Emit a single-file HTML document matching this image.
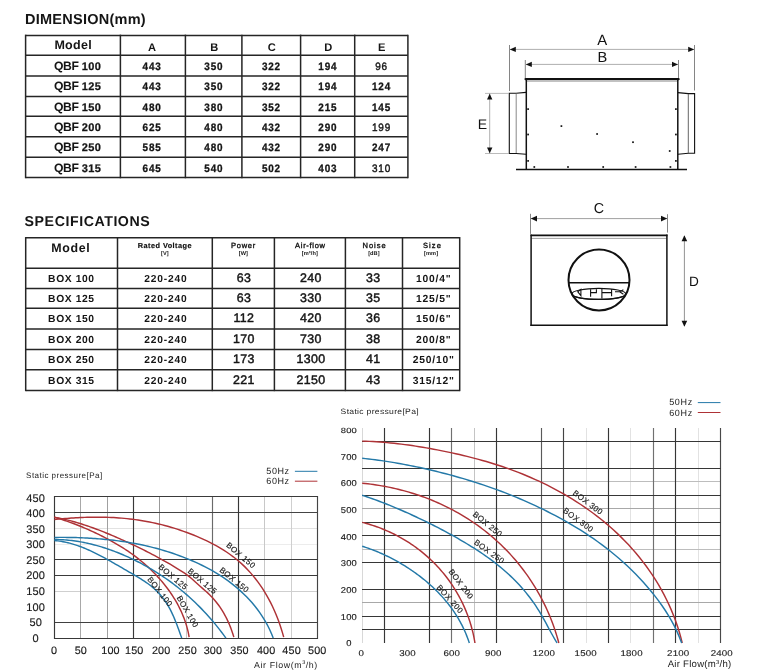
<!DOCTYPE html>
<html><head><meta charset="utf-8"><title>Dimension &amp; Specifications</title>
<style>
html,body{margin:0;padding:0;background:#fff;}
body{width:772px;height:672px;overflow:hidden;}
svg{display:block;font-family:"Liberation Sans", Arial, sans-serif;text-rendering:geometricPrecision;}
</style></head><body>
<svg width="772" height="672" viewBox="0 0 772 672">
<rect width="772" height="672" fill="#fff"/>
<text x="25.00" y="23.80" font-size="14.50" font-weight="bold" text-anchor="start" letter-spacing="0.25" fill="#151515" >DIMENSION(mm)</text>
<text x="24.60" y="225.90" font-size="14.20" font-weight="bold" text-anchor="start" letter-spacing="0.55" fill="#151515" >SPECIFICATIONS</text>
<line x1="25.60" y1="34.65" x2="25.60" y2="178.25" stroke="#252525" stroke-width="1.50" />
<line x1="120.40" y1="34.65" x2="120.40" y2="178.25" stroke="#252525" stroke-width="1.50" />
<line x1="185.40" y1="34.65" x2="185.40" y2="178.25" stroke="#252525" stroke-width="1.50" />
<line x1="241.90" y1="34.65" x2="241.90" y2="178.25" stroke="#252525" stroke-width="1.50" />
<line x1="300.60" y1="34.65" x2="300.60" y2="178.25" stroke="#252525" stroke-width="1.50" />
<line x1="354.70" y1="34.65" x2="354.70" y2="178.25" stroke="#252525" stroke-width="1.50" />
<line x1="407.90" y1="34.65" x2="407.90" y2="178.25" stroke="#252525" stroke-width="1.50" />
<line x1="25.60" y1="35.40" x2="407.90" y2="35.40" stroke="#252525" stroke-width="1.50" />
<line x1="25.60" y1="55.20" x2="407.90" y2="55.20" stroke="#252525" stroke-width="1.50" />
<line x1="25.60" y1="75.90" x2="407.90" y2="75.90" stroke="#252525" stroke-width="1.50" />
<line x1="25.60" y1="96.50" x2="407.90" y2="96.50" stroke="#252525" stroke-width="1.50" />
<line x1="25.60" y1="116.20" x2="407.90" y2="116.20" stroke="#252525" stroke-width="1.50" />
<line x1="25.60" y1="136.80" x2="407.90" y2="136.80" stroke="#252525" stroke-width="1.50" />
<line x1="25.60" y1="157.30" x2="407.90" y2="157.30" stroke="#252525" stroke-width="1.50" />
<line x1="25.60" y1="177.50" x2="407.90" y2="177.50" stroke="#252525" stroke-width="1.50" />
<text x="73.20" y="49.00" font-size="12.50" font-weight="bold" text-anchor="middle" letter-spacing="0.30" fill="#151515" >Model</text>
<text x="152.10" y="50.80" font-size="11.10" font-weight="bold" text-anchor="middle" letter-spacing="0.00" fill="#151515" >A</text>
<text x="214.15" y="50.80" font-size="11.10" font-weight="bold" text-anchor="middle" letter-spacing="0.00" fill="#151515" >B</text>
<text x="271.75" y="50.80" font-size="11.10" font-weight="bold" text-anchor="middle" letter-spacing="0.00" fill="#151515" >C</text>
<text x="328.15" y="50.80" font-size="11.10" font-weight="bold" text-anchor="middle" letter-spacing="0.00" fill="#151515" >D</text>
<text x="381.80" y="50.80" font-size="11.10" font-weight="bold" text-anchor="middle" letter-spacing="0.00" fill="#151515" >E</text>
<text x="54.00" y="69.70" font-size="12.20" font-weight="bold" text-anchor="start" letter-spacing="-0.45" fill="#151515" >QBF</text>
<text x="81.70" y="69.70" font-size="11.00" font-weight="bold" text-anchor="start" letter-spacing="0.40" fill="#151515" stroke="#151515" stroke-width="0.25">100</text>
<text x="0" y="0" font-size="10.8" font-weight="bold" text-anchor="middle" letter-spacing="0.9" fill="#151515" stroke="#151515" stroke-width="0.30" transform="translate(152.10,69.70) scale(0.92,1)">443</text>
<text x="0" y="0" font-size="10.8" font-weight="bold" text-anchor="middle" letter-spacing="0.9" fill="#151515" stroke="#151515" stroke-width="0.30" transform="translate(213.85,69.70) scale(0.92,1)">350</text>
<text x="0" y="0" font-size="10.8" font-weight="bold" text-anchor="middle" letter-spacing="0.9" fill="#151515" stroke="#151515" stroke-width="0.30" transform="translate(271.45,69.70) scale(0.92,1)">322</text>
<text x="0" y="0" font-size="10.8" font-weight="bold" text-anchor="middle" letter-spacing="0.9" fill="#151515" stroke="#151515" stroke-width="0.30" transform="translate(327.85,69.70) scale(0.92,1)">194</text>
<text x="0" y="0" font-size="10.8" font-weight="normal" text-anchor="middle" letter-spacing="0.9" fill="#151515" stroke="#151515" stroke-width="0.42" transform="translate(381.50,69.70) scale(0.92,1)">96</text>
<text x="54.00" y="90.40" font-size="12.20" font-weight="bold" text-anchor="start" letter-spacing="-0.45" fill="#151515" >QBF</text>
<text x="81.70" y="90.40" font-size="11.00" font-weight="bold" text-anchor="start" letter-spacing="0.40" fill="#151515" stroke="#151515" stroke-width="0.25">125</text>
<text x="0" y="0" font-size="10.8" font-weight="bold" text-anchor="middle" letter-spacing="0.9" fill="#151515" stroke="#151515" stroke-width="0.30" transform="translate(152.10,90.40) scale(0.92,1)">443</text>
<text x="0" y="0" font-size="10.8" font-weight="bold" text-anchor="middle" letter-spacing="0.9" fill="#151515" stroke="#151515" stroke-width="0.30" transform="translate(213.85,90.40) scale(0.92,1)">350</text>
<text x="0" y="0" font-size="10.8" font-weight="bold" text-anchor="middle" letter-spacing="0.9" fill="#151515" stroke="#151515" stroke-width="0.30" transform="translate(271.45,90.40) scale(0.92,1)">322</text>
<text x="0" y="0" font-size="10.8" font-weight="bold" text-anchor="middle" letter-spacing="0.9" fill="#151515" stroke="#151515" stroke-width="0.30" transform="translate(327.85,90.40) scale(0.92,1)">194</text>
<text x="0" y="0" font-size="10.8" font-weight="bold" text-anchor="middle" letter-spacing="0.9" fill="#151515" stroke="#151515" stroke-width="0.30" transform="translate(381.50,90.40) scale(0.92,1)">124</text>
<text x="54.00" y="111.00" font-size="12.20" font-weight="bold" text-anchor="start" letter-spacing="-0.45" fill="#151515" >QBF</text>
<text x="81.70" y="111.00" font-size="11.00" font-weight="bold" text-anchor="start" letter-spacing="0.40" fill="#151515" stroke="#151515" stroke-width="0.25">150</text>
<text x="0" y="0" font-size="10.8" font-weight="bold" text-anchor="middle" letter-spacing="0.9" fill="#151515" stroke="#151515" stroke-width="0.30" transform="translate(152.10,111.00) scale(0.92,1)">480</text>
<text x="0" y="0" font-size="10.8" font-weight="bold" text-anchor="middle" letter-spacing="0.9" fill="#151515" stroke="#151515" stroke-width="0.30" transform="translate(213.85,111.00) scale(0.92,1)">380</text>
<text x="0" y="0" font-size="10.8" font-weight="bold" text-anchor="middle" letter-spacing="0.9" fill="#151515" stroke="#151515" stroke-width="0.30" transform="translate(271.45,111.00) scale(0.92,1)">352</text>
<text x="0" y="0" font-size="10.8" font-weight="bold" text-anchor="middle" letter-spacing="0.9" fill="#151515" stroke="#151515" stroke-width="0.30" transform="translate(327.85,111.00) scale(0.92,1)">215</text>
<text x="0" y="0" font-size="10.8" font-weight="bold" text-anchor="middle" letter-spacing="0.9" fill="#151515" stroke="#151515" stroke-width="0.30" transform="translate(381.50,111.00) scale(0.92,1)">145</text>
<text x="54.00" y="130.70" font-size="12.20" font-weight="bold" text-anchor="start" letter-spacing="-0.45" fill="#151515" >QBF</text>
<text x="81.70" y="130.70" font-size="11.00" font-weight="bold" text-anchor="start" letter-spacing="0.40" fill="#151515" stroke="#151515" stroke-width="0.25">200</text>
<text x="0" y="0" font-size="10.8" font-weight="bold" text-anchor="middle" letter-spacing="0.9" fill="#151515" stroke="#151515" stroke-width="0.30" transform="translate(152.10,130.70) scale(0.92,1)">625</text>
<text x="0" y="0" font-size="10.8" font-weight="bold" text-anchor="middle" letter-spacing="0.9" fill="#151515" stroke="#151515" stroke-width="0.30" transform="translate(213.85,130.70) scale(0.92,1)">480</text>
<text x="0" y="0" font-size="10.8" font-weight="bold" text-anchor="middle" letter-spacing="0.9" fill="#151515" stroke="#151515" stroke-width="0.30" transform="translate(271.45,130.70) scale(0.92,1)">432</text>
<text x="0" y="0" font-size="10.8" font-weight="bold" text-anchor="middle" letter-spacing="0.9" fill="#151515" stroke="#151515" stroke-width="0.30" transform="translate(327.85,130.70) scale(0.92,1)">290</text>
<text x="0" y="0" font-size="10.8" font-weight="normal" text-anchor="middle" letter-spacing="0.9" fill="#151515" stroke="#151515" stroke-width="0.42" transform="translate(381.50,130.70) scale(0.92,1)">199</text>
<text x="54.00" y="151.30" font-size="12.20" font-weight="bold" text-anchor="start" letter-spacing="-0.45" fill="#151515" >QBF</text>
<text x="81.70" y="151.30" font-size="11.00" font-weight="bold" text-anchor="start" letter-spacing="0.40" fill="#151515" stroke="#151515" stroke-width="0.25">250</text>
<text x="0" y="0" font-size="10.8" font-weight="bold" text-anchor="middle" letter-spacing="0.9" fill="#151515" stroke="#151515" stroke-width="0.30" transform="translate(152.10,151.30) scale(0.92,1)">585</text>
<text x="0" y="0" font-size="10.8" font-weight="bold" text-anchor="middle" letter-spacing="0.9" fill="#151515" stroke="#151515" stroke-width="0.30" transform="translate(213.85,151.30) scale(0.92,1)">480</text>
<text x="0" y="0" font-size="10.8" font-weight="bold" text-anchor="middle" letter-spacing="0.9" fill="#151515" stroke="#151515" stroke-width="0.30" transform="translate(271.45,151.30) scale(0.92,1)">432</text>
<text x="0" y="0" font-size="10.8" font-weight="bold" text-anchor="middle" letter-spacing="0.9" fill="#151515" stroke="#151515" stroke-width="0.30" transform="translate(327.85,151.30) scale(0.92,1)">290</text>
<text x="0" y="0" font-size="10.8" font-weight="bold" text-anchor="middle" letter-spacing="0.9" fill="#151515" stroke="#151515" stroke-width="0.30" transform="translate(381.50,151.30) scale(0.92,1)">247</text>
<text x="54.00" y="171.80" font-size="12.20" font-weight="bold" text-anchor="start" letter-spacing="-0.45" fill="#151515" >QBF</text>
<text x="81.70" y="171.80" font-size="11.00" font-weight="bold" text-anchor="start" letter-spacing="0.40" fill="#151515" stroke="#151515" stroke-width="0.25">315</text>
<text x="0" y="0" font-size="10.8" font-weight="bold" text-anchor="middle" letter-spacing="0.9" fill="#151515" stroke="#151515" stroke-width="0.30" transform="translate(152.10,171.80) scale(0.92,1)">645</text>
<text x="0" y="0" font-size="10.8" font-weight="bold" text-anchor="middle" letter-spacing="0.9" fill="#151515" stroke="#151515" stroke-width="0.30" transform="translate(213.85,171.80) scale(0.92,1)">540</text>
<text x="0" y="0" font-size="10.8" font-weight="bold" text-anchor="middle" letter-spacing="0.9" fill="#151515" stroke="#151515" stroke-width="0.30" transform="translate(271.45,171.80) scale(0.92,1)">502</text>
<text x="0" y="0" font-size="10.8" font-weight="bold" text-anchor="middle" letter-spacing="0.9" fill="#151515" stroke="#151515" stroke-width="0.30" transform="translate(327.85,171.80) scale(0.92,1)">403</text>
<text x="0" y="0" font-size="10.8" font-weight="normal" text-anchor="middle" letter-spacing="0.9" fill="#151515" stroke="#151515" stroke-width="0.42" transform="translate(381.50,171.80) scale(0.92,1)">310</text>
<line x1="25.70" y1="237.05" x2="25.70" y2="391.15" stroke="#252525" stroke-width="1.50" />
<line x1="117.50" y1="237.05" x2="117.50" y2="391.15" stroke="#252525" stroke-width="1.50" />
<line x1="212.30" y1="237.05" x2="212.30" y2="391.15" stroke="#252525" stroke-width="1.50" />
<line x1="274.40" y1="237.05" x2="274.40" y2="391.15" stroke="#252525" stroke-width="1.50" />
<line x1="345.40" y1="237.05" x2="345.40" y2="391.15" stroke="#252525" stroke-width="1.50" />
<line x1="402.50" y1="237.05" x2="402.50" y2="391.15" stroke="#252525" stroke-width="1.50" />
<line x1="459.70" y1="237.05" x2="459.70" y2="391.15" stroke="#252525" stroke-width="1.50" />
<line x1="25.70" y1="237.80" x2="459.70" y2="237.80" stroke="#252525" stroke-width="1.50" />
<line x1="25.70" y1="268.20" x2="459.70" y2="268.20" stroke="#252525" stroke-width="1.50" />
<line x1="25.70" y1="288.40" x2="459.70" y2="288.40" stroke="#252525" stroke-width="1.50" />
<line x1="25.70" y1="308.20" x2="459.70" y2="308.20" stroke="#252525" stroke-width="1.50" />
<line x1="25.70" y1="329.10" x2="459.70" y2="329.10" stroke="#252525" stroke-width="1.50" />
<line x1="25.70" y1="349.60" x2="459.70" y2="349.60" stroke="#252525" stroke-width="1.50" />
<line x1="25.70" y1="369.80" x2="459.70" y2="369.80" stroke="#252525" stroke-width="1.50" />
<line x1="25.70" y1="390.40" x2="459.70" y2="390.40" stroke="#252525" stroke-width="1.50" />
<text x="70.80" y="251.60" font-size="12.40" font-weight="bold" text-anchor="middle" letter-spacing="0.65" fill="#151515" >Model</text>
<text x="164.90" y="247.70" font-size="7.30" font-weight="bold" text-anchor="middle" letter-spacing="0.46" fill="#111" stroke="#111" stroke-width="0.2">Rated Voltage</text>
<text x="164.90" y="254.60" font-size="5.60" font-weight="bold" text-anchor="middle" letter-spacing="0.10" fill="#111" >[V]</text>
<text x="243.55" y="247.80" font-size="7.50" font-weight="normal" text-anchor="middle" letter-spacing="0.75" fill="#111" stroke="#111" stroke-width="0.35">Power</text>
<text x="243.35" y="254.60" font-size="5.60" font-weight="bold" text-anchor="middle" letter-spacing="0.10" fill="#111" >[W]</text>
<text x="310.40" y="247.80" font-size="7.50" font-weight="normal" text-anchor="middle" letter-spacing="0.70" fill="#111" stroke="#111" stroke-width="0.35">Air-flow</text>
<text x="309.90" y="254.60" font-size="5.60" font-weight="bold" text-anchor="middle" letter-spacing="0.10" fill="#111" >[m&#179;/h]</text>
<text x="374.55" y="247.80" font-size="7.50" font-weight="normal" text-anchor="middle" letter-spacing="0.95" fill="#111" stroke="#111" stroke-width="0.35">Noise</text>
<text x="373.95" y="254.60" font-size="5.60" font-weight="bold" text-anchor="middle" letter-spacing="0.10" fill="#111" >[dB]</text>
<text x="432.50" y="247.80" font-size="7.50" font-weight="normal" text-anchor="middle" letter-spacing="1.10" fill="#111" stroke="#111" stroke-width="0.35">Size</text>
<text x="431.10" y="254.60" font-size="5.60" font-weight="bold" text-anchor="middle" letter-spacing="0.10" fill="#111" >[mm]</text>
<text x="71.40" y="281.90" font-size="10.30" font-weight="bold" text-anchor="middle" letter-spacing="0.60" fill="#151515" >BOX 100</text>
<text x="165.80" y="281.90" font-size="10.20" font-weight="bold" text-anchor="middle" letter-spacing="0.85" fill="#151515" >220-240</text>
<text x="243.95" y="281.90" font-size="12.40" font-weight="normal" text-anchor="middle" letter-spacing="0.35" fill="#151515" stroke="#151515" stroke-width="0.45">63</text>
<text x="310.90" y="281.90" font-size="12.40" font-weight="normal" text-anchor="middle" letter-spacing="0.35" fill="#151515" stroke="#151515" stroke-width="0.45">240</text>
<text x="373.35" y="281.90" font-size="12.40" font-weight="normal" text-anchor="middle" letter-spacing="0.35" fill="#151515" stroke="#151515" stroke-width="0.45">33</text>
<text x="433.70" y="281.90" font-size="10.30" font-weight="bold" text-anchor="middle" letter-spacing="0.80" fill="#151515" >100/4&quot;</text>
<text x="71.40" y="302.10" font-size="10.30" font-weight="bold" text-anchor="middle" letter-spacing="0.60" fill="#151515" >BOX 125</text>
<text x="165.80" y="302.10" font-size="10.20" font-weight="bold" text-anchor="middle" letter-spacing="0.85" fill="#151515" >220-240</text>
<text x="243.95" y="302.10" font-size="12.40" font-weight="normal" text-anchor="middle" letter-spacing="0.35" fill="#151515" stroke="#151515" stroke-width="0.45">63</text>
<text x="310.90" y="302.10" font-size="12.40" font-weight="normal" text-anchor="middle" letter-spacing="0.35" fill="#151515" stroke="#151515" stroke-width="0.45">330</text>
<text x="373.35" y="302.10" font-size="12.40" font-weight="normal" text-anchor="middle" letter-spacing="0.35" fill="#151515" stroke="#151515" stroke-width="0.45">35</text>
<text x="433.70" y="302.10" font-size="10.30" font-weight="bold" text-anchor="middle" letter-spacing="0.80" fill="#151515" >125/5&quot;</text>
<text x="71.40" y="321.90" font-size="10.30" font-weight="bold" text-anchor="middle" letter-spacing="0.60" fill="#151515" >BOX 150</text>
<text x="165.80" y="321.90" font-size="10.20" font-weight="bold" text-anchor="middle" letter-spacing="0.85" fill="#151515" >220-240</text>
<text x="243.95" y="321.90" font-size="12.40" font-weight="normal" text-anchor="middle" letter-spacing="0.35" fill="#151515" stroke="#151515" stroke-width="0.45">112</text>
<text x="310.90" y="321.90" font-size="12.40" font-weight="normal" text-anchor="middle" letter-spacing="0.35" fill="#151515" stroke="#151515" stroke-width="0.45">420</text>
<text x="373.35" y="321.90" font-size="12.40" font-weight="normal" text-anchor="middle" letter-spacing="0.35" fill="#151515" stroke="#151515" stroke-width="0.45">36</text>
<text x="433.70" y="321.90" font-size="10.30" font-weight="bold" text-anchor="middle" letter-spacing="0.80" fill="#151515" >150/6&quot;</text>
<text x="71.40" y="342.80" font-size="10.30" font-weight="bold" text-anchor="middle" letter-spacing="0.60" fill="#151515" >BOX 200</text>
<text x="165.80" y="342.80" font-size="10.20" font-weight="bold" text-anchor="middle" letter-spacing="0.85" fill="#151515" >220-240</text>
<text x="243.95" y="342.80" font-size="12.40" font-weight="normal" text-anchor="middle" letter-spacing="0.35" fill="#151515" stroke="#151515" stroke-width="0.45">170</text>
<text x="310.90" y="342.80" font-size="12.40" font-weight="normal" text-anchor="middle" letter-spacing="0.35" fill="#151515" stroke="#151515" stroke-width="0.45">730</text>
<text x="373.35" y="342.80" font-size="12.40" font-weight="normal" text-anchor="middle" letter-spacing="0.35" fill="#151515" stroke="#151515" stroke-width="0.45">38</text>
<text x="433.70" y="342.80" font-size="10.30" font-weight="bold" text-anchor="middle" letter-spacing="0.80" fill="#151515" >200/8&quot;</text>
<text x="71.40" y="363.30" font-size="10.30" font-weight="bold" text-anchor="middle" letter-spacing="0.60" fill="#151515" >BOX 250</text>
<text x="165.80" y="363.30" font-size="10.20" font-weight="bold" text-anchor="middle" letter-spacing="0.85" fill="#151515" >220-240</text>
<text x="243.95" y="363.30" font-size="12.40" font-weight="normal" text-anchor="middle" letter-spacing="0.35" fill="#151515" stroke="#151515" stroke-width="0.45">173</text>
<text x="310.90" y="363.30" font-size="12.40" font-weight="normal" text-anchor="middle" letter-spacing="0.35" fill="#151515" stroke="#151515" stroke-width="0.45">1300</text>
<text x="373.35" y="363.30" font-size="12.40" font-weight="normal" text-anchor="middle" letter-spacing="0.35" fill="#151515" stroke="#151515" stroke-width="0.45">41</text>
<text x="433.70" y="363.30" font-size="10.30" font-weight="bold" text-anchor="middle" letter-spacing="0.80" fill="#151515" >250/10&quot;</text>
<text x="71.40" y="383.50" font-size="10.30" font-weight="bold" text-anchor="middle" letter-spacing="0.60" fill="#151515" >BOX 315</text>
<text x="165.80" y="383.50" font-size="10.20" font-weight="bold" text-anchor="middle" letter-spacing="0.85" fill="#151515" >220-240</text>
<text x="243.95" y="383.50" font-size="12.40" font-weight="normal" text-anchor="middle" letter-spacing="0.35" fill="#151515" stroke="#151515" stroke-width="0.45">221</text>
<text x="310.90" y="383.50" font-size="12.40" font-weight="normal" text-anchor="middle" letter-spacing="0.35" fill="#151515" stroke="#151515" stroke-width="0.45">2150</text>
<text x="373.35" y="383.50" font-size="12.40" font-weight="normal" text-anchor="middle" letter-spacing="0.35" fill="#151515" stroke="#151515" stroke-width="0.45">43</text>
<text x="433.70" y="383.50" font-size="10.30" font-weight="bold" text-anchor="middle" letter-spacing="0.80" fill="#151515" >315/12&quot;</text>
<line x1="509.50" y1="45.00" x2="509.50" y2="91.00" stroke="#666" stroke-width="0.80" />
<line x1="694.50" y1="45.00" x2="694.50" y2="90.50" stroke="#666" stroke-width="0.80" />
<line x1="509.50" y1="49.40" x2="694.50" y2="49.40" stroke="#999" stroke-width="0.80" />
<polygon points="509.80,49.40 515.80,46.70 515.80,52.10" fill="#111"/>
<polygon points="694.20,49.40 688.20,52.10 688.20,46.70" fill="#111"/>
<text x="602.10" y="44.80" font-size="14.90" font-weight="normal" text-anchor="middle" letter-spacing="0.00" fill="#111" >A</text>
<line x1="525.30" y1="60.00" x2="525.30" y2="79.00" stroke="#666" stroke-width="0.80" />
<line x1="678.50" y1="60.00" x2="678.50" y2="79.00" stroke="#666" stroke-width="0.80" />
<line x1="525.30" y1="64.40" x2="678.50" y2="64.40" stroke="#999" stroke-width="0.80" />
<polygon points="525.80,64.40 531.80,61.70 531.80,67.10" fill="#111"/>
<polygon points="678.00,64.40 672.00,67.10 672.00,61.70" fill="#111"/>
<text x="602.30" y="62.20" font-size="14.60" font-weight="normal" text-anchor="middle" letter-spacing="0.00" fill="#111" >B</text>
<line x1="525.60" y1="79.20" x2="678.60" y2="79.20" stroke="#111" stroke-width="2.20" stroke-linecap="round"/>
<line x1="527.00" y1="81.40" x2="677.00" y2="81.40" stroke="#aaa" stroke-width="0.80" />
<line x1="526.30" y1="80.00" x2="526.30" y2="169.50" stroke="#111" stroke-width="1.50" />
<line x1="677.80" y1="80.00" x2="677.80" y2="169.50" stroke="#111" stroke-width="1.50" />
<line x1="516.00" y1="169.40" x2="687.00" y2="169.40" stroke="#111" stroke-width="1.50" />
<path d="M526,92.4 L516.2,93.3 L509.3,93.3 L509.3,153.5 L516.2,153.5 L526,154.3" fill="none" stroke="#111" stroke-width="1.1"/>
<line x1="516.20" y1="93.80" x2="516.20" y2="153.00" stroke="#888" stroke-width="1.00" />
<path d="M678,92.6 L688.3,93.6 L694.6,93.6 L694.6,153.3 L688.3,153.3 L678,154.3" fill="none" stroke="#111" stroke-width="1.1"/>
<line x1="688.30" y1="94.00" x2="688.30" y2="153.00" stroke="#666" stroke-width="1.00" />
<line x1="485.00" y1="93.40" x2="509.00" y2="93.40" stroke="#aaa" stroke-width="0.80" />
<line x1="485.00" y1="153.50" x2="509.00" y2="153.50" stroke="#aaa" stroke-width="0.80" />
<line x1="489.70" y1="93.40" x2="489.70" y2="153.50" stroke="#999" stroke-width="0.80" />
<polygon points="489.70,93.70 492.40,99.50 487.00,99.50" fill="#111"/>
<polygon points="489.70,153.20 487.00,147.40 492.40,147.40" fill="#111"/>
<text x="482.40" y="128.90" font-size="14.00" font-weight="normal" text-anchor="middle" letter-spacing="0.00" fill="#111" >E</text>
<rect x="527.25" y="108.25" width="1.7" height="1.7" fill="#111"/>
<rect x="527.25" y="133.65" width="1.7" height="1.7" fill="#111"/>
<rect x="527.25" y="160.05" width="1.7" height="1.7" fill="#111"/>
<rect x="675.05" y="108.25" width="1.7" height="1.7" fill="#111"/>
<rect x="675.05" y="133.65" width="1.7" height="1.7" fill="#111"/>
<rect x="675.05" y="160.05" width="1.7" height="1.7" fill="#111"/>
<rect x="560.55" y="125.25" width="1.7" height="1.7" fill="#111"/>
<rect x="596.25" y="133.15" width="1.7" height="1.7" fill="#111"/>
<rect x="632.15" y="141.35" width="1.7" height="1.7" fill="#111"/>
<rect x="668.85" y="150.15" width="1.7" height="1.7" fill="#111"/>
<rect x="533.45" y="166.15" width="1.7" height="1.7" fill="#111"/>
<rect x="567.15" y="166.15" width="1.7" height="1.7" fill="#111"/>
<rect x="602.35" y="166.15" width="1.7" height="1.7" fill="#111"/>
<rect x="634.75" y="166.15" width="1.7" height="1.7" fill="#111"/>
<rect x="669.55" y="166.15" width="1.7" height="1.7" fill="#111"/>
<line x1="530.50" y1="213.80" x2="530.50" y2="233.90" stroke="#666" stroke-width="0.80" />
<line x1="667.50" y1="214.20" x2="667.50" y2="232.60" stroke="#666" stroke-width="0.80" />
<line x1="530.50" y1="218.60" x2="667.50" y2="218.60" stroke="#888" stroke-width="0.80" />
<polygon points="530.80,218.60 537.00,215.70 537.00,221.50" fill="#111"/>
<polygon points="667.20,218.60 661.00,221.50 661.00,215.70" fill="#111"/>
<text x="598.90" y="212.50" font-size="14.30" font-weight="normal" text-anchor="middle" letter-spacing="0.00" fill="#111" >C</text>
<line x1="530.50" y1="235.30" x2="667.50" y2="235.30" stroke="#111" stroke-width="1.80" />
<line x1="531.50" y1="238.40" x2="666.50" y2="238.40" stroke="#999" stroke-width="0.90" />
<line x1="531.10" y1="234.60" x2="531.10" y2="325.90" stroke="#111" stroke-width="1.50" />
<line x1="666.90" y1="234.60" x2="666.90" y2="325.90" stroke="#111" stroke-width="1.50" />
<line x1="530.40" y1="325.20" x2="667.60" y2="325.20" stroke="#111" stroke-width="1.50" />
<line x1="684.40" y1="236.00" x2="684.40" y2="326.00" stroke="#777" stroke-width="0.80" />
<polygon points="684.40,235.20 687.20,241.20 681.60,241.20" fill="#111"/>
<polygon points="684.40,326.70 681.60,320.70 687.20,320.70" fill="#111"/>
<text x="694.00" y="285.90" font-size="13.60" font-weight="normal" text-anchor="middle" letter-spacing="0.00" fill="#111" >D</text>
<circle cx="599.0" cy="280.0" r="30.5" fill="none" stroke="#111" stroke-width="2.0"/>
<line x1="569.00" y1="282.70" x2="629.00" y2="282.70" stroke="#111" stroke-width="1.60" />
<ellipse cx="598.8" cy="293.9" rx="27.0" ry="5.5" fill="none" stroke="#111" stroke-width="1.2"/>
<path d="M572.0,294.6 A27,5.5 0 0 0 625.6,294.6" fill="none" stroke="#111" stroke-width="1.3"/>
<path d="M577.8,291.8 L580.9,289.4 L580.9,295.7 Z M590.6,289.2 V296.8 M590.6,292.6 H596.4 V289.2 M601.9,289.0 V298.6 M601.9,292.6 H611.6 M611.6,289.2 V296.2 M615,291.8 H619.7 L623.4,289.8 M619.7,291.8 L623.4,294.2" fill="none" stroke="#111" stroke-width="1.1"/>
<line x1="54.00" y1="544.50" x2="318.00" y2="544.50" stroke="#ececec" stroke-width="1.00" />
<line x1="54.00" y1="528.50" x2="318.00" y2="528.50" stroke="#e2e2e2" stroke-width="1.00" />
<line x1="54.00" y1="591.50" x2="318.00" y2="591.50" stroke="#cfcfcf" stroke-width="1.00" />
<line x1="291.50" y1="496.00" x2="291.50" y2="639.00" stroke="#cfcfcf" stroke-width="1.00" />
<line x1="186.50" y1="496.00" x2="186.50" y2="639.00" stroke="#c8c8c8" stroke-width="1.00" />
<line x1="264.50" y1="496.00" x2="264.50" y2="639.00" stroke="#c8c8c8" stroke-width="1.00" />
<line x1="80.50" y1="496.00" x2="80.50" y2="639.00" stroke="#a8a8a8" stroke-width="1.00" />
<line x1="107.50" y1="496.00" x2="107.50" y2="639.00" stroke="#a0a0a0" stroke-width="1.00" />
<line x1="159.50" y1="496.00" x2="159.50" y2="639.00" stroke="#999" stroke-width="1.00" />
<line x1="212.50" y1="496.00" x2="212.50" y2="639.00" stroke="#6a6a6a" stroke-width="1.15" />
<line x1="54.00" y1="512.50" x2="318.00" y2="512.50" stroke="#444" stroke-width="1.15" />
<line x1="317.50" y1="496.00" x2="317.50" y2="639.00" stroke="#444" stroke-width="1.15" />
<line x1="54.00" y1="622.50" x2="318.00" y2="622.50" stroke="#404040" stroke-width="1.15" />
<line x1="54.00" y1="496.50" x2="318.00" y2="496.50" stroke="#3a3a3a" stroke-width="1.15" />
<line x1="54.00" y1="559.50" x2="318.00" y2="559.50" stroke="#3a3a3a" stroke-width="1.15" />
<line x1="54.00" y1="575.50" x2="318.00" y2="575.50" stroke="#3a3a3a" stroke-width="1.15" />
<line x1="54.00" y1="638.50" x2="318.00" y2="638.50" stroke="#383838" stroke-width="1.15" />
<line x1="54.50" y1="496.00" x2="54.50" y2="639.00" stroke="#383838" stroke-width="1.15" />
<line x1="133.50" y1="496.00" x2="133.50" y2="639.00" stroke="#383838" stroke-width="1.15" />
<line x1="238.50" y1="496.00" x2="238.50" y2="639.00" stroke="#363636" stroke-width="1.15" />
<path d="M54.40,540.54 L56.12,540.70 L57.83,540.89 L59.54,541.12 L61.24,541.39 L62.93,541.68 L64.61,542.01 L66.29,542.37 L67.95,542.76 L69.61,543.17 L71.25,543.62 L72.89,544.08 L74.51,544.58 L76.12,545.10 L77.72,545.64 L79.31,546.20 L80.89,546.79 L82.46,547.39 L84.02,548.02 L85.57,548.66 L87.11,549.32 L88.64,549.99 L90.16,550.68 L91.67,551.38 L93.18,552.09 L94.68,552.82 L96.17,553.56 L97.65,554.31 L99.13,555.08 L100.61,555.85 L102.08,556.63 L103.55,557.42 L105.02,558.21 L106.49,559.02 L107.95,559.83 L109.42,560.65 L110.90,561.48 L112.37,562.32 L113.85,563.16 L115.34,564.01 L116.83,564.87 L118.33,565.73 L119.85,566.61 L121.37,567.49 L122.90,568.38 L124.45,569.28 L126.01,570.18 L127.59,571.10 L129.18,572.03 L130.80,572.97 L132.43,573.92 L134.08,574.89 L135.75,575.87 L137.44,576.87 L139.14,577.89 L140.86,578.94 L142.57,580.03 L144.29,581.14 L146.00,582.30 L147.70,583.50 L149.39,584.74 L151.05,586.03 L152.69,587.36 L154.29,588.75 L155.86,590.18 L157.38,591.67 L158.86,593.20 L160.28,594.79 L161.66,596.42 L162.98,598.10 L164.26,599.81 L165.49,601.57 L166.67,603.37 L167.80,605.20 L168.88,607.06 L169.92,608.96 L170.92,610.89 L171.87,612.84 L172.79,614.82 L173.68,616.83 L174.55,618.85 L175.39,620.90 L176.21,622.97 L177.01,625.07 L177.80,627.18 L178.59,629.32 L179.37,631.48 L180.15,633.66 L180.94,635.87 L181.74,638.10" fill="none" stroke="#2479a8" stroke-width="1.45"/>
<path d="M54.40,517.25 L56.51,517.87 L58.60,518.50 L60.68,519.14 L62.73,519.80 L64.76,520.47 L66.77,521.16 L68.77,521.85 L70.75,522.56 L72.71,523.28 L74.66,524.01 L76.59,524.75 L78.50,525.50 L80.40,526.26 L82.29,527.04 L84.16,527.82 L86.02,528.61 L87.86,529.42 L89.70,530.23 L91.52,531.06 L93.34,531.89 L95.14,532.74 L96.94,533.60 L98.72,534.46 L100.50,535.34 L102.27,536.23 L104.03,537.13 L105.78,538.04 L107.53,538.97 L109.27,539.90 L111.01,540.85 L112.73,541.81 L114.46,542.79 L116.17,543.78 L117.89,544.78 L119.59,545.81 L121.29,546.85 L122.98,547.91 L124.66,548.99 L126.34,550.09 L128.01,551.20 L129.67,552.34 L131.33,553.50 L132.97,554.69 L134.61,555.89 L136.24,557.12 L137.85,558.38 L139.46,559.65 L141.05,560.96 L142.64,562.28 L144.22,563.63 L145.78,565.00 L147.33,566.40 L148.88,567.82 L150.41,569.27 L151.92,570.75 L153.43,572.25 L154.92,573.77 L156.40,575.32 L157.87,576.90 L159.32,578.51 L160.75,580.14 L162.17,581.80 L163.57,583.49 L164.95,585.20 L166.32,586.95 L167.66,588.72 L168.97,590.53 L170.27,592.36 L171.53,594.22 L172.77,596.11 L173.99,598.03 L175.17,599.99 L176.32,601.96 L177.44,603.97 L178.53,606.01 L179.58,608.07 L180.59,610.16 L181.57,612.28 L182.50,614.43 L183.39,616.60 L184.24,618.80 L185.04,621.02 L185.79,623.27 L186.49,625.53 L187.13,627.82 L187.72,630.13 L188.25,632.45 L188.72,634.80 L189.13,637.16" fill="none" stroke="#ae3236" stroke-width="1.45"/>
<path d="M54.40,539.59 L56.14,539.58 L57.88,539.60 L59.62,539.64 L61.36,539.70 L63.10,539.79 L64.84,539.90 L66.58,540.03 L68.32,540.18 L70.06,540.36 L71.80,540.55 L73.54,540.77 L75.28,541.01 L77.02,541.27 L78.76,541.55 L80.50,541.85 L82.24,542.16 L83.98,542.50 L85.72,542.86 L87.46,543.24 L89.20,543.63 L90.95,544.05 L92.69,544.48 L94.44,544.93 L96.19,545.41 L97.95,545.90 L99.70,546.40 L101.46,546.93 L103.22,547.48 L104.99,548.04 L106.76,548.63 L108.54,549.23 L110.32,549.85 L112.10,550.50 L113.89,551.16 L115.69,551.84 L117.49,552.54 L119.30,553.27 L121.11,554.01 L122.94,554.78 L124.77,555.57 L126.60,556.38 L128.45,557.21 L130.31,558.06 L132.17,558.94 L134.04,559.85 L135.93,560.78 L137.82,561.74 L139.72,562.72 L141.63,563.73 L143.56,564.77 L145.49,565.83 L147.44,566.93 L149.39,568.05 L151.36,569.21 L153.34,570.40 L155.33,571.62 L157.33,572.88 L159.35,574.17 L161.37,575.50 L163.41,576.86 L165.46,578.26 L167.52,579.71 L169.59,581.19 L171.67,582.71 L173.77,584.28 L175.87,585.89 L177.99,587.55 L180.11,589.25 L182.25,591.00 L184.39,592.80 L186.54,594.65 L188.71,596.55 L190.87,598.50 L193.05,600.51 L195.23,602.58 L197.42,604.70 L199.61,606.88 L201.81,609.12 L204.01,611.42 L206.21,613.78 L208.42,616.21 L210.62,618.70 L212.82,621.26 L215.02,623.89 L217.22,626.59 L219.41,629.35 L221.60,632.20 L223.77,635.11 L225.94,638.10" fill="none" stroke="#2479a8" stroke-width="1.45"/>
<path d="M54.40,517.26 L56.52,517.64 L58.63,518.04 L60.72,518.46 L62.80,518.91 L64.87,519.38 L66.92,519.87 L68.97,520.38 L71.00,520.91 L73.02,521.46 L75.03,522.02 L77.03,522.60 L79.02,523.20 L81.00,523.81 L82.97,524.44 L84.93,525.08 L86.89,525.73 L88.83,526.40 L90.77,527.08 L92.71,527.78 L94.64,528.49 L96.56,529.20 L98.48,529.93 L100.40,530.67 L102.32,531.42 L104.23,532.19 L106.14,532.96 L108.06,533.75 L109.97,534.54 L111.89,535.35 L113.81,536.16 L115.74,536.99 L117.67,537.83 L119.60,538.68 L121.55,539.54 L123.50,540.42 L125.46,541.31 L127.43,542.21 L129.41,543.12 L131.40,544.05 L133.40,544.99 L135.42,545.95 L137.45,546.93 L139.49,547.92 L141.55,548.93 L143.63,549.96 L145.72,551.01 L147.84,552.09 L149.97,553.18 L152.12,554.30 L154.29,555.44 L156.49,556.61 L158.70,557.80 L160.94,559.02 L163.20,560.28 L165.48,561.56 L167.79,562.88 L170.12,564.23 L172.47,565.62 L174.85,567.04 L177.26,568.51 L179.68,570.02 L182.13,571.57 L184.57,573.18 L186.97,574.88 L189.28,576.66 L191.53,578.53 L193.73,580.46 L195.93,582.45 L198.15,584.47 L200.42,586.53 L202.78,588.62 L205.24,590.73 L207.70,592.90 L210.06,595.17 L212.31,597.52 L214.47,599.96 L216.53,602.47 L218.49,605.05 L220.35,607.70 L222.11,610.42 L223.78,613.20 L225.35,616.03 L226.83,618.92 L228.22,621.85 L229.51,624.83 L230.72,627.86 L231.84,630.92 L232.88,634.02 L233.83,637.16" fill="none" stroke="#ae3236" stroke-width="1.45"/>
<path d="M54.40,537.48 L56.18,537.44 L57.96,537.41 L59.74,537.39 L61.52,537.38 L63.31,537.38 L65.11,537.38 L66.90,537.40 L68.71,537.42 L70.52,537.45 L72.34,537.49 L74.17,537.54 L76.01,537.59 L77.86,537.65 L79.72,537.72 L81.59,537.79 L83.48,537.88 L85.38,537.97 L87.29,538.07 L89.22,538.18 L91.17,538.30 L93.13,538.43 L95.12,538.56 L97.12,538.71 L99.14,538.87 L101.19,539.04 L103.25,539.22 L105.34,539.42 L107.46,539.63 L109.59,539.85 L111.76,540.09 L113.95,540.34 L116.17,540.61 L118.42,540.90 L120.69,541.21 L123.00,541.54 L125.34,541.90 L127.71,542.27 L130.11,542.67 L132.55,543.09 L135.02,543.54 L137.52,544.02 L140.06,544.53 L142.63,545.07 L145.24,545.64 L147.89,546.25 L150.57,546.89 L153.29,547.58 L156.04,548.30 L158.84,549.06 L161.67,549.87 L164.54,550.72 L167.45,551.62 L170.40,552.56 L173.39,553.56 L176.41,554.61 L179.47,555.72 L182.57,556.89 L185.71,558.11 L188.89,559.40 L192.10,560.75 L195.34,562.17 L198.60,563.66 L201.89,565.23 L205.19,566.88 L208.51,568.62 L211.82,570.44 L215.13,572.35 L218.43,574.36 L221.71,576.46 L224.97,578.65 L228.20,580.95 L231.40,583.34 L234.55,585.83 L237.65,588.42 L240.69,591.11 L243.67,593.90 L246.57,596.78 L249.39,599.76 L252.13,602.83 L254.78,606.00 L257.32,609.26 L259.76,612.60 L262.08,616.03 L264.28,619.53 L266.35,623.11 L268.28,626.76 L270.08,630.48 L271.72,634.26 L273.21,638.10" fill="none" stroke="#2479a8" stroke-width="1.45"/>
<path d="M54.40,519.44 L56.49,519.24 L58.59,519.05 L60.70,518.86 L62.82,518.69 L64.95,518.52 L67.09,518.35 L69.25,518.20 L71.42,518.05 L73.60,517.91 L75.80,517.78 L78.02,517.66 L80.25,517.55 L82.50,517.46 L84.77,517.37 L87.06,517.30 L89.37,517.24 L91.70,517.19 L94.06,517.16 L96.43,517.15 L98.83,517.15 L101.26,517.17 L103.70,517.22 L106.18,517.28 L108.68,517.36 L111.21,517.46 L113.76,517.59 L116.34,517.74 L118.95,517.92 L121.58,518.13 L124.25,518.36 L126.94,518.63 L129.67,518.93 L132.42,519.26 L135.20,519.62 L138.01,520.02 L140.85,520.45 L143.72,520.93 L146.62,521.44 L149.55,522.00 L152.50,522.60 L155.49,523.24 L158.51,523.93 L161.55,524.67 L164.62,525.46 L167.72,526.29 L170.85,527.18 L174.01,528.13 L177.19,529.13 L180.40,530.19 L183.63,531.31 L186.88,532.48 L190.16,533.72 L193.47,535.03 L196.79,536.40 L200.14,537.83 L203.50,539.34 L206.88,540.92 L210.26,542.58 L213.63,544.33 L216.99,546.17 L220.33,548.10 L223.64,550.12 L226.91,552.24 L230.13,554.47 L233.29,556.80 L236.37,559.23 L239.38,561.76 L242.31,564.40 L245.15,567.13 L247.90,569.96 L250.57,572.88 L253.15,575.89 L255.64,578.97 L258.04,582.14 L260.36,585.39 L262.59,588.70 L264.72,592.09 L266.78,595.55 L268.74,599.06 L270.62,602.64 L272.41,606.28 L274.11,609.97 L275.73,613.71 L277.26,617.51 L278.71,621.35 L280.08,625.24 L281.37,629.17 L282.57,633.14 L283.70,637.16" fill="none" stroke="#ae3236" stroke-width="1.45"/>
<text x="35.70" y="642.15" font-size="11.00" font-weight="normal" text-anchor="middle" letter-spacing="0.20" fill="#1a1a1a" stroke="#1a1a1a" stroke-width="0.15">0</text>
<text x="35.70" y="626.35" font-size="11.00" font-weight="normal" text-anchor="middle" letter-spacing="0.20" fill="#1a1a1a" stroke="#1a1a1a" stroke-width="0.15">50</text>
<text x="35.70" y="610.65" font-size="11.00" font-weight="normal" text-anchor="middle" letter-spacing="0.20" fill="#1a1a1a" stroke="#1a1a1a" stroke-width="0.15">100</text>
<text x="35.70" y="595.25" font-size="11.00" font-weight="normal" text-anchor="middle" letter-spacing="0.20" fill="#1a1a1a" stroke="#1a1a1a" stroke-width="0.15">150</text>
<text x="35.70" y="579.45" font-size="11.00" font-weight="normal" text-anchor="middle" letter-spacing="0.20" fill="#1a1a1a" stroke="#1a1a1a" stroke-width="0.15">200</text>
<text x="35.70" y="564.05" font-size="11.00" font-weight="normal" text-anchor="middle" letter-spacing="0.20" fill="#1a1a1a" stroke="#1a1a1a" stroke-width="0.15">250</text>
<text x="35.70" y="547.85" font-size="11.00" font-weight="normal" text-anchor="middle" letter-spacing="0.20" fill="#1a1a1a" stroke="#1a1a1a" stroke-width="0.15">300</text>
<text x="35.70" y="533.25" font-size="11.00" font-weight="normal" text-anchor="middle" letter-spacing="0.20" fill="#1a1a1a" stroke="#1a1a1a" stroke-width="0.15">350</text>
<text x="35.70" y="516.85" font-size="11.00" font-weight="normal" text-anchor="middle" letter-spacing="0.20" fill="#1a1a1a" stroke="#1a1a1a" stroke-width="0.15">400</text>
<text x="35.70" y="501.95" font-size="11.00" font-weight="normal" text-anchor="middle" letter-spacing="0.20" fill="#1a1a1a" stroke="#1a1a1a" stroke-width="0.15">450</text>
<text x="54.10" y="653.70" font-size="10.80" font-weight="normal" text-anchor="middle" letter-spacing="0.15" fill="#1a1a1a" stroke="#1a1a1a" stroke-width="0.15">0</text>
<text x="80.80" y="653.70" font-size="10.80" font-weight="normal" text-anchor="middle" letter-spacing="0.15" fill="#1a1a1a" stroke="#1a1a1a" stroke-width="0.15">50</text>
<text x="110.50" y="653.70" font-size="10.80" font-weight="normal" text-anchor="middle" letter-spacing="0.15" fill="#1a1a1a" stroke="#1a1a1a" stroke-width="0.15">100</text>
<text x="134.30" y="653.70" font-size="10.80" font-weight="normal" text-anchor="middle" letter-spacing="0.15" fill="#1a1a1a" stroke="#1a1a1a" stroke-width="0.15">150</text>
<text x="161.20" y="653.70" font-size="10.80" font-weight="normal" text-anchor="middle" letter-spacing="0.15" fill="#1a1a1a" stroke="#1a1a1a" stroke-width="0.15">200</text>
<text x="187.60" y="653.70" font-size="10.80" font-weight="normal" text-anchor="middle" letter-spacing="0.15" fill="#1a1a1a" stroke="#1a1a1a" stroke-width="0.15">250</text>
<text x="212.90" y="653.70" font-size="10.80" font-weight="normal" text-anchor="middle" letter-spacing="0.15" fill="#1a1a1a" stroke="#1a1a1a" stroke-width="0.15">300</text>
<text x="239.50" y="653.70" font-size="10.80" font-weight="normal" text-anchor="middle" letter-spacing="0.15" fill="#1a1a1a" stroke="#1a1a1a" stroke-width="0.15">350</text>
<text x="266.20" y="653.70" font-size="10.80" font-weight="normal" text-anchor="middle" letter-spacing="0.15" fill="#1a1a1a" stroke="#1a1a1a" stroke-width="0.15">400</text>
<text x="291.60" y="653.70" font-size="10.80" font-weight="normal" text-anchor="middle" letter-spacing="0.15" fill="#1a1a1a" stroke="#1a1a1a" stroke-width="0.15">450</text>
<text x="317.30" y="653.70" font-size="10.80" font-weight="normal" text-anchor="middle" letter-spacing="0.15" fill="#1a1a1a" stroke="#1a1a1a" stroke-width="0.15">500</text>
<text x="26.10" y="477.70" font-size="8.00" font-weight="normal" text-anchor="start" letter-spacing="0.47" fill="#222" >Static pressure[Pa]</text>
<text x="254.1" y="667.6" font-size="8.8" fill="#222" letter-spacing="0.6">Air Flow(m<tspan font-size="5.5" dy="-3.5">3</tspan><tspan dy="3.5">/h)</tspan></text>
<text x="266.30" y="474.00" font-size="9.00" font-weight="normal" text-anchor="start" letter-spacing="0.60" fill="#222" >50Hz</text>
<text x="266.30" y="483.90" font-size="9.00" font-weight="normal" text-anchor="start" letter-spacing="0.60" fill="#222" >60Hz</text>
<line x1="294.90" y1="471.30" x2="317.40" y2="471.30" stroke="#2479a8" stroke-width="1.00" />
<line x1="294.90" y1="481.20" x2="317.40" y2="481.20" stroke="#ae3236" stroke-width="1.00" />
<text x="0" y="0" font-size="8.00" letter-spacing="0.40" fill="#1a1a1a" stroke="#1a1a1a" stroke-width="0.15" text-anchor="middle" transform="translate(241.00,555.20) rotate(40.00) translate(0,2.88)">BOX 150</text>
<text x="0" y="0" font-size="8.00" letter-spacing="0.40" fill="#1a1a1a" stroke="#1a1a1a" stroke-width="0.15" text-anchor="middle" transform="translate(234.40,579.80) rotate(39.00) translate(0,2.88)">BOX 150</text>
<text x="0" y="0" font-size="8.00" letter-spacing="0.40" fill="#1a1a1a" stroke="#1a1a1a" stroke-width="0.15" text-anchor="middle" transform="translate(173.30,576.90) rotate(40.00) translate(0,2.88)">BOX 125</text>
<text x="0" y="0" font-size="8.00" letter-spacing="0.40" fill="#1a1a1a" stroke="#1a1a1a" stroke-width="0.15" text-anchor="middle" transform="translate(202.60,581.10) rotate(40.00) translate(0,2.88)">BOX 125</text>
<text x="0" y="0" font-size="8.00" letter-spacing="0.40" fill="#1a1a1a" stroke="#1a1a1a" stroke-width="0.15" text-anchor="middle" transform="translate(160.10,591.70) rotate(52.00) translate(0,2.88)">BOX 100</text>
<text x="0" y="0" font-size="8.00" letter-spacing="0.40" fill="#1a1a1a" stroke="#1a1a1a" stroke-width="0.15" text-anchor="middle" transform="translate(187.80,611.60) rotate(60.00) translate(0,2.88)">BOX 100</text>
<line x1="586.50" y1="428.00" x2="586.50" y2="643.00" stroke="#e2e2e2" stroke-width="1.00" />
<line x1="630.50" y1="428.00" x2="630.50" y2="643.00" stroke="#e2e2e2" stroke-width="1.00" />
<line x1="698.50" y1="428.00" x2="698.50" y2="643.00" stroke="#e2e2e2" stroke-width="1.00" />
<line x1="362.50" y1="428.00" x2="362.50" y2="643.00" stroke="#d8d8d8" stroke-width="1.00" />
<line x1="474.50" y1="428.00" x2="474.50" y2="643.00" stroke="#c4c4c4" stroke-width="1.00" />
<line x1="362.00" y1="481.50" x2="721.00" y2="481.50" stroke="#bdbdbd" stroke-width="1.00" />
<line x1="362.00" y1="549.50" x2="721.00" y2="549.50" stroke="#bdbdbd" stroke-width="1.00" />
<line x1="362.00" y1="508.50" x2="721.00" y2="508.50" stroke="#a8a8a8" stroke-width="1.00" />
<line x1="362.00" y1="602.50" x2="721.00" y2="602.50" stroke="#a8a8a8" stroke-width="1.00" />
<line x1="451.50" y1="428.00" x2="451.50" y2="643.00" stroke="#707070" stroke-width="1.15" />
<line x1="653.50" y1="428.00" x2="653.50" y2="643.00" stroke="#707070" stroke-width="1.15" />
<line x1="541.50" y1="428.00" x2="541.50" y2="643.00" stroke="#5a5a5a" stroke-width="1.15" />
<line x1="720.50" y1="428.00" x2="720.50" y2="643.00" stroke="#484848" stroke-width="1.15" />
<line x1="563.50" y1="428.00" x2="563.50" y2="643.00" stroke="#444" stroke-width="1.15" />
<line x1="362.00" y1="441.50" x2="721.00" y2="441.50" stroke="#363636" stroke-width="1.15" />
<line x1="362.00" y1="468.50" x2="721.00" y2="468.50" stroke="#363636" stroke-width="1.15" />
<line x1="362.00" y1="495.50" x2="721.00" y2="495.50" stroke="#363636" stroke-width="1.15" />
<line x1="362.00" y1="522.50" x2="721.00" y2="522.50" stroke="#363636" stroke-width="1.15" />
<line x1="362.00" y1="535.50" x2="721.00" y2="535.50" stroke="#363636" stroke-width="1.15" />
<line x1="362.00" y1="562.50" x2="721.00" y2="562.50" stroke="#363636" stroke-width="1.15" />
<line x1="362.00" y1="589.50" x2="721.00" y2="589.50" stroke="#363636" stroke-width="1.15" />
<line x1="362.00" y1="616.50" x2="721.00" y2="616.50" stroke="#363636" stroke-width="1.15" />
<line x1="362.00" y1="629.50" x2="721.00" y2="629.50" stroke="#363636" stroke-width="1.15" />
<line x1="384.50" y1="428.00" x2="384.50" y2="643.00" stroke="#363636" stroke-width="1.15" />
<line x1="429.50" y1="428.00" x2="429.50" y2="643.00" stroke="#363636" stroke-width="1.15" />
<line x1="496.50" y1="428.00" x2="496.50" y2="643.00" stroke="#363636" stroke-width="1.15" />
<line x1="608.50" y1="428.00" x2="608.50" y2="643.00" stroke="#363636" stroke-width="1.15" />
<line x1="675.50" y1="428.00" x2="675.50" y2="643.00" stroke="#363636" stroke-width="1.15" />
<path d="M362.20,441.15 L365.76,441.26 L369.32,441.40 L372.87,441.58 L376.43,441.80 L379.98,442.04 L383.53,442.32 L387.08,442.62 L390.63,442.96 L394.19,443.33 L397.74,443.73 L401.30,444.15 L404.86,444.60 L408.42,445.08 L412.00,445.59 L415.57,446.12 L419.16,446.68 L422.75,447.27 L426.36,447.88 L429.98,448.52 L433.60,449.19 L437.25,449.88 L440.90,450.59 L444.58,451.34 L448.27,452.11 L451.98,452.90 L455.71,453.73 L459.46,454.58 L463.24,455.47 L467.03,456.39 L470.85,457.35 L474.69,458.34 L478.55,459.38 L482.43,460.45 L486.34,461.57 L490.27,462.74 L494.22,463.96 L498.19,465.23 L502.19,466.55 L506.20,467.93 L510.24,469.36 L514.29,470.86 L518.36,472.41 L522.45,474.03 L526.56,475.72 L530.68,477.47 L534.81,479.29 L538.96,481.19 L543.12,483.16 L547.29,485.20 L551.46,487.33 L555.65,489.53 L559.84,491.81 L564.03,494.18 L568.22,496.63 L572.41,499.17 L576.59,501.79 L580.76,504.51 L584.92,507.32 L589.07,510.23 L593.19,513.24 L597.28,516.34 L601.35,519.55 L605.38,522.85 L609.38,526.26 L613.32,529.77 L617.23,533.39 L621.08,537.11 L624.87,540.93 L628.59,544.86 L632.26,548.89 L635.84,553.02 L639.35,557.25 L642.78,561.59 L646.12,566.03 L649.36,570.56 L652.51,575.20 L655.55,579.92 L658.49,584.74 L661.31,589.65 L664.01,594.65 L666.59,599.73 L669.04,604.90 L671.36,610.14 L673.54,615.45 L675.58,620.84 L677.48,626.29 L679.22,631.80 L680.81,637.38 L682.24,643.00" fill="none" stroke="#ae3236" stroke-width="1.45"/>
<path d="M362.20,458.31 L365.45,458.64 L368.70,458.99 L371.93,459.37 L375.16,459.78 L378.37,460.20 L381.58,460.65 L384.79,461.12 L387.98,461.61 L391.18,462.12 L394.37,462.65 L397.55,463.20 L400.74,463.77 L403.92,464.35 L407.11,464.96 L410.30,465.59 L413.49,466.23 L416.68,466.90 L419.88,467.58 L423.09,468.29 L426.30,469.01 L429.52,469.75 L432.75,470.52 L436.00,471.30 L439.25,472.11 L442.52,472.94 L445.80,473.79 L449.10,474.66 L452.41,475.56 L455.74,476.48 L459.09,477.43 L462.46,478.41 L465.85,479.41 L469.26,480.45 L472.70,481.51 L476.16,482.61 L479.64,483.73 L483.15,484.90 L486.68,486.09 L490.25,487.33 L493.83,488.60 L497.45,489.91 L501.10,491.27 L504.78,492.67 L508.49,494.11 L512.22,495.60 L515.99,497.14 L519.80,498.73 L523.63,500.38 L527.50,502.08 L531.39,503.83 L535.33,505.65 L539.29,507.53 L543.29,509.47 L547.32,511.48 L551.38,513.55 L555.48,515.70 L559.60,517.92 L563.76,520.22 L567.95,522.59 L572.17,525.05 L576.41,527.59 L580.67,530.22 L584.94,532.95 L589.23,535.78 L593.52,538.70 L597.81,541.73 L602.10,544.87 L606.37,548.11 L610.64,551.47 L614.88,554.94 L619.10,558.52 L623.29,562.22 L627.44,566.04 L631.55,569.98 L635.61,574.03 L639.62,578.21 L643.57,582.50 L647.45,586.91 L651.26,591.45 L654.98,596.10 L658.61,600.87 L662.11,605.76 L665.47,610.76 L668.67,615.88 L671.70,621.11 L674.53,626.45 L677.15,631.88 L679.53,637.40 L681.67,643.00" fill="none" stroke="#2479a8" stroke-width="1.45"/>
<path d="M362.20,483.21 L365.02,483.49 L367.82,483.81 L370.62,484.15 L373.41,484.53 L376.19,484.93 L378.96,485.37 L381.72,485.84 L384.47,486.33 L387.21,486.86 L389.95,487.41 L392.68,488.00 L395.40,488.61 L398.11,489.26 L400.81,489.94 L403.50,490.65 L406.19,491.38 L408.87,492.15 L411.54,492.95 L414.20,493.79 L416.86,494.65 L419.50,495.54 L422.14,496.47 L424.77,497.43 L427.39,498.42 L430.00,499.44 L432.60,500.50 L435.20,501.59 L437.78,502.71 L440.36,503.87 L442.92,505.06 L445.48,506.29 L448.03,507.55 L450.56,508.84 L453.09,510.17 L455.60,511.54 L458.11,512.94 L460.60,514.37 L463.08,515.85 L465.55,517.36 L468.00,518.90 L470.44,520.49 L472.87,522.11 L475.28,523.77 L477.68,525.46 L480.07,527.20 L482.43,528.97 L484.79,530.78 L487.12,532.63 L489.44,534.52 L491.74,536.45 L494.02,538.42 L496.28,540.43 L498.52,542.48 L500.74,544.57 L502.94,546.70 L505.11,548.87 L507.27,551.08 L509.40,553.33 L511.50,555.62 L513.58,557.96 L515.64,560.33 L517.66,562.75 L519.66,565.20 L521.63,567.70 L523.57,570.24 L525.48,572.82 L527.36,575.44 L529.21,578.10 L531.02,580.80 L532.80,583.55 L534.55,586.33 L536.25,589.15 L537.93,592.01 L539.56,594.92 L541.15,597.86 L542.71,600.84 L544.22,603.86 L545.69,606.92 L547.12,610.02 L548.51,613.15 L549.85,616.33 L551.14,619.54 L552.39,622.78 L553.59,626.07 L554.74,629.38 L555.84,632.74 L556.89,636.12 L557.88,639.55 L558.83,643.00" fill="none" stroke="#ae3236" stroke-width="1.45"/>
<path d="M362.20,495.30 L364.79,496.15 L367.36,497.00 L369.89,497.87 L372.40,498.75 L374.88,499.64 L377.34,500.55 L379.78,501.46 L382.19,502.37 L384.58,503.30 L386.95,504.24 L389.30,505.18 L391.63,506.13 L393.94,507.08 L396.24,508.05 L398.52,509.02 L400.79,509.99 L403.05,510.98 L405.29,511.97 L407.52,512.96 L409.74,513.96 L411.95,514.97 L414.15,515.99 L416.35,517.01 L418.54,518.04 L420.72,519.08 L422.91,520.13 L425.08,521.19 L427.26,522.25 L429.43,523.32 L431.60,524.41 L433.77,525.50 L435.95,526.61 L438.12,527.73 L440.30,528.86 L442.48,530.00 L444.67,531.16 L446.86,532.34 L449.05,533.53 L451.25,534.74 L453.46,535.96 L455.67,537.21 L457.89,538.47 L460.12,539.76 L462.35,541.06 L464.60,542.39 L466.85,543.75 L469.11,545.13 L471.38,546.54 L473.66,547.97 L475.95,549.43 L478.25,550.93 L480.56,552.45 L482.88,554.02 L485.20,555.61 L487.52,557.25 L489.85,558.93 L492.17,560.65 L494.50,562.41 L496.82,564.22 L499.14,566.07 L501.45,567.98 L503.75,569.93 L506.05,571.93 L508.32,573.99 L510.59,576.10 L512.83,578.26 L515.06,580.47 L517.26,582.75 L519.43,585.07 L521.58,587.46 L523.70,589.89 L525.78,592.39 L527.83,594.94 L529.85,597.55 L531.82,600.21 L533.76,602.93 L535.65,605.70 L537.51,608.53 L539.32,611.41 L541.08,614.34 L542.80,617.33 L544.48,620.36 L546.14,623.45 L547.81,626.58 L549.51,629.75 L551.26,632.98 L553.09,636.26 L555.01,639.60 L557.06,643.00" fill="none" stroke="#2479a8" stroke-width="1.45"/>
<path d="M362.20,522.34 L364.32,522.89 L366.42,523.47 L368.50,524.07 L370.57,524.70 L372.61,525.35 L374.63,526.02 L376.64,526.72 L378.63,527.44 L380.59,528.19 L382.54,528.96 L384.47,529.75 L386.38,530.56 L388.27,531.39 L390.14,532.24 L391.99,533.12 L393.82,534.01 L395.63,534.93 L397.43,535.87 L399.20,536.82 L400.96,537.79 L402.70,538.79 L404.41,539.80 L406.11,540.83 L407.79,541.88 L409.45,542.95 L411.10,544.03 L412.72,545.14 L414.32,546.26 L415.91,547.40 L417.47,548.55 L419.02,549.72 L420.55,550.91 L422.06,552.12 L423.55,553.34 L425.02,554.58 L426.48,555.83 L427.91,557.10 L429.33,558.39 L430.72,559.69 L432.10,561.01 L433.46,562.34 L434.80,563.69 L436.12,565.06 L437.42,566.44 L438.71,567.83 L439.97,569.24 L441.22,570.67 L442.44,572.10 L443.65,573.56 L444.84,575.03 L446.01,576.51 L447.16,578.01 L448.29,579.52 L449.40,581.05 L450.49,582.59 L451.56,584.14 L452.61,585.71 L453.64,587.30 L454.65,588.89 L455.65,590.51 L456.62,592.13 L457.57,593.77 L458.50,595.42 L459.41,597.09 L460.30,598.77 L461.17,600.46 L462.02,602.17 L462.85,603.89 L463.65,605.62 L464.44,607.37 L465.20,609.13 L465.94,610.90 L466.66,612.69 L467.36,614.49 L468.03,616.30 L468.68,618.13 L469.31,619.97 L469.92,621.82 L470.50,623.69 L471.06,625.56 L471.59,627.45 L472.10,629.35 L472.59,631.27 L473.05,633.19 L473.48,635.13 L473.89,637.08 L474.28,639.04 L474.64,641.02 L474.97,643.00" fill="none" stroke="#ae3236" stroke-width="1.45"/>
<path d="M362.20,546.24 L363.90,546.78 L365.58,547.33 L367.24,547.89 L368.88,548.47 L370.51,549.06 L372.12,549.66 L373.71,550.27 L375.29,550.89 L376.85,551.53 L378.40,552.17 L379.93,552.83 L381.45,553.49 L382.95,554.17 L384.43,554.85 L385.91,555.55 L387.37,556.25 L388.82,556.96 L390.25,557.68 L391.68,558.42 L393.09,559.16 L394.49,559.90 L395.88,560.66 L397.26,561.43 L398.63,562.21 L399.99,562.99 L401.34,563.78 L402.68,564.59 L404.01,565.40 L405.33,566.22 L406.64,567.05 L407.95,567.90 L409.25,568.75 L410.54,569.61 L411.82,570.48 L413.10,571.36 L414.37,572.25 L415.63,573.16 L416.89,574.07 L418.13,575.00 L419.38,575.93 L420.61,576.88 L421.85,577.84 L423.07,578.82 L424.29,579.80 L425.50,580.80 L426.71,581.82 L427.91,582.84 L429.11,583.88 L430.30,584.94 L431.49,586.01 L432.67,587.09 L433.84,588.19 L435.01,589.31 L436.17,590.45 L437.32,591.60 L438.47,592.76 L439.61,593.95 L440.74,595.15 L441.87,596.38 L442.98,597.62 L444.09,598.88 L445.19,600.16 L446.28,601.46 L447.36,602.78 L448.42,604.12 L449.48,605.49 L450.52,606.87 L451.56,608.28 L452.58,609.70 L453.59,611.15 L454.58,612.62 L455.56,614.12 L456.52,615.63 L457.47,617.17 L458.40,618.73 L459.31,620.32 L460.21,621.93 L461.09,623.56 L461.95,625.21 L462.79,626.89 L463.61,628.59 L464.40,630.31 L465.18,632.05 L465.93,633.82 L466.66,635.61 L467.37,637.43 L468.05,639.26 L468.70,641.12 L469.33,643.00" fill="none" stroke="#2479a8" stroke-width="1.45"/>
<text x="0" y="0" font-size="9.4" text-anchor="middle" letter-spacing="0.1" fill="#1a1a1a" stroke="#1a1a1a" stroke-width="0.15" transform="translate(348.8,646.19) scale(1,0.90)">0</text>
<text x="0" y="0" font-size="9.4" text-anchor="middle" letter-spacing="0.1" fill="#1a1a1a" stroke="#1a1a1a" stroke-width="0.15" transform="translate(348.8,619.54) scale(1,0.90)">100</text>
<text x="0" y="0" font-size="9.4" text-anchor="middle" letter-spacing="0.1" fill="#1a1a1a" stroke="#1a1a1a" stroke-width="0.15" transform="translate(348.8,592.89) scale(1,0.90)">200</text>
<text x="0" y="0" font-size="9.4" text-anchor="middle" letter-spacing="0.1" fill="#1a1a1a" stroke="#1a1a1a" stroke-width="0.15" transform="translate(348.8,566.24) scale(1,0.90)">300</text>
<text x="0" y="0" font-size="9.4" text-anchor="middle" letter-spacing="0.1" fill="#1a1a1a" stroke="#1a1a1a" stroke-width="0.15" transform="translate(348.8,539.59) scale(1,0.90)">400</text>
<text x="0" y="0" font-size="9.4" text-anchor="middle" letter-spacing="0.1" fill="#1a1a1a" stroke="#1a1a1a" stroke-width="0.15" transform="translate(348.8,512.94) scale(1,0.90)">500</text>
<text x="0" y="0" font-size="9.4" text-anchor="middle" letter-spacing="0.1" fill="#1a1a1a" stroke="#1a1a1a" stroke-width="0.15" transform="translate(348.8,486.29) scale(1,0.90)">600</text>
<text x="0" y="0" font-size="9.4" text-anchor="middle" letter-spacing="0.1" fill="#1a1a1a" stroke="#1a1a1a" stroke-width="0.15" transform="translate(348.8,459.64) scale(1,0.90)">700</text>
<text x="0" y="0" font-size="9.4" text-anchor="middle" letter-spacing="0.1" fill="#1a1a1a" stroke="#1a1a1a" stroke-width="0.15" transform="translate(348.8,432.68) scale(1,0.80)">800</text>
<text x="0" y="0" font-size="9.7" text-anchor="middle" letter-spacing="0.15" fill="#1a1a1a" stroke="#1a1a1a" stroke-width="0.15" transform="translate(361.30,656.0) scale(1,0.86)">0</text>
<text x="0" y="0" font-size="9.7" text-anchor="middle" letter-spacing="0.15" fill="#1a1a1a" stroke="#1a1a1a" stroke-width="0.15" transform="translate(407.60,656.0) scale(1,0.86)">300</text>
<text x="0" y="0" font-size="9.7" text-anchor="middle" letter-spacing="0.15" fill="#1a1a1a" stroke="#1a1a1a" stroke-width="0.15" transform="translate(451.80,656.0) scale(1,0.86)">600</text>
<text x="0" y="0" font-size="9.7" text-anchor="middle" letter-spacing="0.15" fill="#1a1a1a" stroke="#1a1a1a" stroke-width="0.15" transform="translate(493.20,656.0) scale(1,0.86)">900</text>
<text x="0" y="0" font-size="9.7" text-anchor="middle" letter-spacing="0.15" fill="#1a1a1a" stroke="#1a1a1a" stroke-width="0.15" transform="translate(543.90,656.0) scale(1,0.86)">1200</text>
<text x="0" y="0" font-size="9.7" text-anchor="middle" letter-spacing="0.15" fill="#1a1a1a" stroke="#1a1a1a" stroke-width="0.15" transform="translate(585.70,656.0) scale(1,0.86)">1500</text>
<text x="0" y="0" font-size="9.7" text-anchor="middle" letter-spacing="0.15" fill="#1a1a1a" stroke="#1a1a1a" stroke-width="0.15" transform="translate(631.60,656.0) scale(1,0.86)">1800</text>
<text x="0" y="0" font-size="9.7" text-anchor="middle" letter-spacing="0.15" fill="#1a1a1a" stroke="#1a1a1a" stroke-width="0.15" transform="translate(678.20,656.0) scale(1,0.86)">2100</text>
<text x="0" y="0" font-size="9.7" text-anchor="middle" letter-spacing="0.15" fill="#1a1a1a" stroke="#1a1a1a" stroke-width="0.15" transform="translate(721.80,656.0) scale(1,0.86)">2400</text>
<text x="0" y="0" font-size="8.6" letter-spacing="0.3" fill="#222" transform="translate(340.6,413.6) scale(1,0.9)">Static pressure[Pa]</text>
<text x="667.7" y="667.4" font-size="9.6" fill="#222" letter-spacing="0.25">Air Flow(m<tspan font-size="5.8" dy="-3.7">3</tspan><tspan dy="3.7">/h)</tspan></text>
<text x="669.20" y="404.90" font-size="9.00" font-weight="normal" text-anchor="start" letter-spacing="0.65" fill="#222" >50Hz</text>
<text x="669.20" y="415.60" font-size="9.00" font-weight="normal" text-anchor="start" letter-spacing="0.65" fill="#222" >60Hz</text>
<line x1="697.80" y1="402.60" x2="720.50" y2="402.60" stroke="#2479a8" stroke-width="1.00" />
<line x1="697.80" y1="412.50" x2="720.50" y2="412.50" stroke="#ae3236" stroke-width="1.00" />
<text x="0" y="0" font-size="8.00" letter-spacing="0.40" fill="#1a1a1a" stroke="#1a1a1a" stroke-width="0.15" text-anchor="middle" transform="translate(588.00,502.30) rotate(37.00) translate(0,2.88)">BOX 300</text>
<text x="0" y="0" font-size="8.00" letter-spacing="0.40" fill="#1a1a1a" stroke="#1a1a1a" stroke-width="0.15" text-anchor="middle" transform="translate(578.40,519.90) rotate(36.00) translate(0,2.88)">BOX 300</text>
<text x="0" y="0" font-size="8.00" letter-spacing="0.40" fill="#1a1a1a" stroke="#1a1a1a" stroke-width="0.15" text-anchor="middle" transform="translate(487.70,524.00) rotate(39.00) translate(0,2.88)">BOX 250</text>
<text x="0" y="0" font-size="8.00" letter-spacing="0.40" fill="#1a1a1a" stroke="#1a1a1a" stroke-width="0.15" text-anchor="middle" transform="translate(489.40,551.50) rotate(36.00) translate(0,2.88)">BOX 250</text>
<text x="0" y="0" font-size="8.00" letter-spacing="0.40" fill="#1a1a1a" stroke="#1a1a1a" stroke-width="0.15" text-anchor="middle" transform="translate(461.20,584.00) rotate(53.00) translate(0,2.88)">BOX 200</text>
<text x="0" y="0" font-size="8.00" letter-spacing="0.40" fill="#1a1a1a" stroke="#1a1a1a" stroke-width="0.15" text-anchor="middle" transform="translate(450.20,599.00) rotate(48.00) translate(0,2.88)">BOX 200</text>
</svg>
</body></html>
